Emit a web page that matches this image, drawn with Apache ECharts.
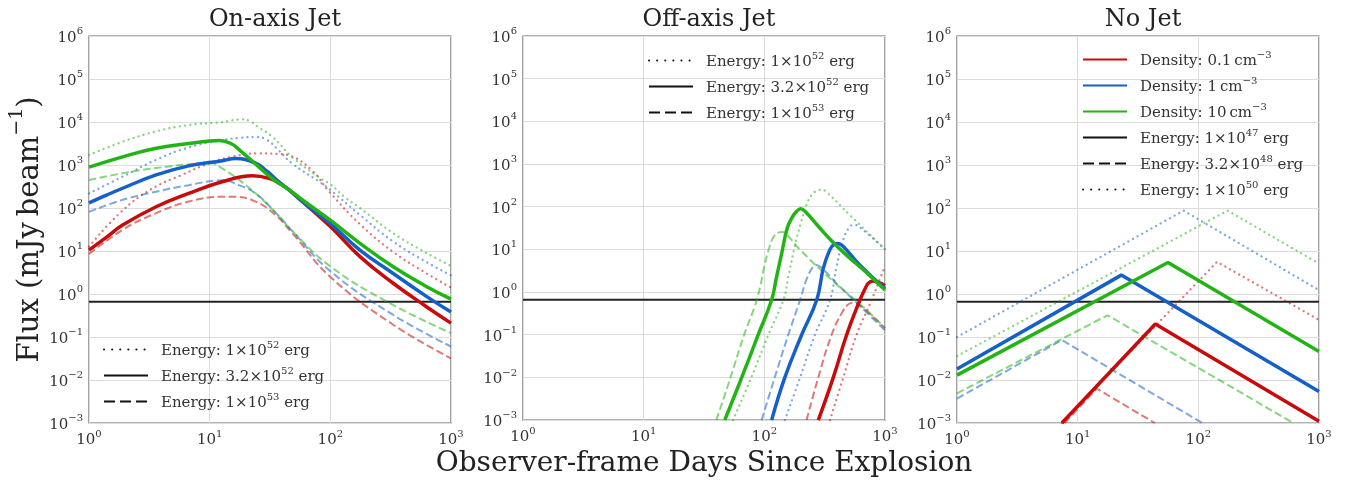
<!DOCTYPE html>
<html>
<head>
<meta charset="utf-8">
<script src="https://cdn.jsdelivr.net/npm/echarts@6/dist/echarts.min.js"></script>
<style>
  html, body { margin: 0; padding: 0; background: #fff; }
  #chart { width: 1359px; height: 483px; }
</style>
</head>
<body>
<div id="chart"></div>
<script>
// Radio light curves: flux density (mJy/beam) vs observer-frame days, three outflow scenarios.
// Each curve is a list of [days, flux] pairs.

const DETECTION_LIMIT = 0.66;

// ---- On-axis jet (solid: 3.2e52 erg, dotted: 1e52 erg, dashed: 1e53 erg) ----
const onRedSolid   = [[1,10.5],[1.4,21],[1.9,40],[3.6,107],[6.7,219],[12.7,407],[22.6,562],[31,490],[38,372],[45,270],[56,158],[100,37],[176,7.4],[332,1.78],[630,0.5],[1000,0.21]];
const onBlueSolid  = [[1,132],[1.4,200],[1.9,288],[3.6,589],[6.7,955],[12.7,1260],[16.4,1410],[24,1100],[30,708],[36,447],[45,270],[64,115],[100,43.6],[176,10.5],[332,3.0],[630,0.87],[1000,0.38]];
const onGreenSolid = [[1,890],[1.9,1550],[3.6,2450],[6.7,3160],[12,3700],[15,3160],[18,2140],[25,955],[33,480],[45,270],[64,129],[100,52],[176,15.1],[332,4.3],[630,1.48],[1000,0.76]];

const onRedDotted   = [[1,12.6],[1.8,76],[3.2,263],[6,603],[10,1100],[15.7,1585],[26,1860],[36,1820],[48,1585],[70,760],[100,224],[176,42],[332,9.5],[630,3.0],[1000,1.41]];
const onBlueDotted  = [[1,219],[1.9,537],[3.6,1320],[6.7,2570],[12.7,3800],[18,4300],[24,4470],[30,3800],[37,2240],[48,1100],[80,417],[100,263],[176,69],[332,16.6],[630,5.5],[1000,2.7]];
const onGreenDotted = [[1,1700],[1.9,3470],[3.6,6030],[6.7,8510],[12.7,10000],[15.5,11000],[18.5,11500],[21.5,10500],[25,7760],[33,4570],[48,1550],[80,525],[100,355],[132,178],[176,100],[332,26],[630,8.9],[1000,4.5]];

const onRedDashed   = [[1,8.5],[1.9,31],[3.6,76],[6.7,141],[12.7,182],[16.4,182],[24,141],[35,69],[49,25],[100,2.5],[330,0.195],[1000,0.032]];
const onBlueDashed  = [[1,81],[1.9,155],[3.6,240],[6.7,340],[12.7,440],[17.5,340],[24,219],[35,79],[49,28],[100,3.4],[330,0.33],[1000,0.06]];
const onGreenDashed = [[1,447],[2.3,708],[4.4,912],[7,1050],[10.2,1100],[12.7,830],[17.5,450],[24,219],[35,79],[49,28],[100,4.4],[295,0.66],[1000,0.123]];

// ---- Off-axis jet ----
const offRedSolid   = [[280,0.001],[373,0.01],[481,0.1],[621,0.66],[676,1.12],[728,1.62],[794,1.82],[891,1.66],[1000,1.41]];
const offBlueSolid  = [[115,0.001],[148,0.01],[204,0.1],[272,0.66],[308,3.6],[350,10],[380,13.2],[407,13.8],[447,12],[617,4.3],[1000,1.2]];
const offGreenSolid = [[47,0.001],[65,0.01],[89,0.1],[115,0.66],[126,2.2],[138,7.1],[155,32],[170,56],[186,79],[200,89],[219,76],[282,34],[372,14.5],[500,6.6],[708,2.8],[1000,1.12]];

const offRedDotted   = [[350,0.001],[451,0.01],[582,0.1],[776,0.66],[891,1.78],[1000,4.0]];
const offBlueDotted  = [[148,0.001],[198,0.01],[263,0.1],[350,0.66],[398,4.0],[447,15.8],[501,31.6],[550,38],[631,31.6],[1000,10]];
const offGreenDotted = [[55,0.001],[78,0.01],[108,0.1],[144,0.66],[158,2.24],[178,11.2],[200,40],[224,112],[251,200],[282,245],[299,251],[331,214],[513,63],[1000,10]];

const offRedDashed   = [[224,0.001],[280,0.01],[361,0.1],[447,0.355],[501,0.525],[550,0.56],[631,0.47],[1000,0.141]];
const offBlueDashed  = [[95,0.001],[122,0.01],[158,0.1],[198,0.66],[224,2.0],[251,3.8],[269,4.3],[295,3.8],[398,1.58],[631,0.45],[1000,0.126]];
const offGreenDashed = [[40,0.001],[52.5,0.01],[68,0.1],[83,0.45],[92,1.26],[100,4.0],[110,11.2],[120,20],[132,25],[141,25.7],[155,21.4],[200,9.5],[372,1.78],[631,0.5],[1000,0.145]];

// ---- No jet (solid: 1e47 erg, dashed: 3.2e48 erg, dotted: 1e50 erg) ----
const noRedSolid    = [[7.4,0.001],[44,0.2],[1000,0.0011]];
const noBlueSolid   = [[1,0.018],[23,2.75],[1000,0.0054]];
const noGreenSolid  = [[1,0.013],[56,5.4],[1000,0.046]];

const noRedDashed   = [[7.8,0.001],[14.4,0.0063],[43.5,0.001]];
const noBlueDashed  = [[1,0.0037],[7.4,0.085],[108,0.001]];
const noGreenDashed = [[1,0.0049],[17.7,0.32],[613,0.001]];

const noRedDotted   = [[7.4,0.001],[143,5.6],[1000,0.25]];
const noBlueDotted  = [[1,0.10],[75.5,87],[1000,1.23]];
const noGreenDotted = [[1,0.036],[175,87],[1000,5.1]];

// ---- Text ----
const panelTitles = ['On-axis Jet', 'Off-axis Jet', 'No Jet'];
const jetLegend   = ['Energy: 1×10^52 erg', 'Energy: 3.2×10^52 erg', 'Energy: 1×10^53 erg'];
const noJetLegend = ['Density: 0.1\u2009cm^−3', 'Density: 1\u2009cm^−3', 'Density: 10\u2009cm^−3',
                     'Energy: 1×10^47 erg', 'Energy: 3.2×10^48 erg', 'Energy: 1×10^50 erg'];
const xTitle = 'Observer-frame Days Since Explosion';
const xRange = [1, 1000];
const yRange = [0.001, 1e6];

// ---- Styling ----
const FONT = 'DejaVu Serif';
const RED = '#c80a0a', BLUE = '#1460c8', GREEN = '#22b414';
const gridLefts = [89, 523, 957];
const GRID_TOP = 36, GRID_W = 362, GRID_H = 387;

const supRich = {
  b: { fontFamily: FONT, fontSize: 15, color: '#333', lineHeight: 19, verticalAlign: 'bottom' },
  s: { fontFamily: FONT, fontSize: 10, color: '#333', lineHeight: 19, verticalAlign: 'top' }
};
function powerLabel(v) {
  const e = Math.round(Math.log10(v));
  return '{b|10}{s|' + (e < 0 ? '\u2212' + (-e) : e) + '}';
}
function legendLabel(name) {
  const m = name.match(/^(.*?)\^(\S+)(.*)$/);
  if (!m) return '{p|}{t|' + name + '}';
  return '{p|}{t|' + m[1] + '}{s|' + m[2] + '}{t|' + m[3] + '}';
}
const legendRich = {
  p: { width: 8 },
  t: { fontFamily: FONT, fontSize: 15, color: '#333', lineHeight: 19, verticalAlign: 'bottom' },
  s: { fontFamily: FONT, fontSize: 10, color: '#333', lineHeight: 19, verticalAlign: 'top' }
};

function curve(data, color, kind, panel) {
  const s = {
    type: 'line', xAxisIndex: panel, yAxisIndex: panel, data: data,
    symbol: 'none', silent: true, clip: true, smooth: panel < 2 ? 0.45 : false
  };
  if (kind === 'solid') {
    s.lineStyle = { color: color, width: 3.5 };
    s.z = 4;
  } else if (kind === 'dashed') {
    s.lineStyle = { color: color, width: 2, opacity: 0.55, type: [7.5, 3.5] };
    s.z = 3;
  } else {
    s.lineStyle = { color: color, width: 2.3, opacity: 0.55, type: [0.1, 5.2], cap: 'round' };
    s.z = 3;
  }
  return s;
}
function legendKey(name, color, kind, panel) {
  const type = kind === 'dashed' ? [11, 5] : kind === 'dotted' ? [0.1, 8] : 'solid';
  return {
    type: 'line', name: name, xAxisIndex: panel, yAxisIndex: panel, data: [],
    symbol: 'none', itemStyle: { color: color },
    lineStyle: { color: color, width: 3, type: type, cap: kind === 'dotted' ? 'round' : 'butt' }
  };
}
function threshold(panel) {
  return {
    type: 'line', xAxisIndex: panel, yAxisIndex: panel, symbol: 'none', silent: true, z: 2,
    data: [[xRange[0], DETECTION_LIMIT], [xRange[1], DETECTION_LIMIT]],
    lineStyle: { color: '#222', width: 1.8 }
  };
}

const series = [
  curve(onRedDotted, RED, 'dotted', 0), curve(onBlueDotted, BLUE, 'dotted', 0), curve(onGreenDotted, GREEN, 'dotted', 0),
  curve(onRedDashed, RED, 'dashed', 0), curve(onBlueDashed, BLUE, 'dashed', 0), curve(onGreenDashed, GREEN, 'dashed', 0),
  curve(onRedSolid, RED, 'solid', 0), curve(onBlueSolid, BLUE, 'solid', 0), curve(onGreenSolid, GREEN, 'solid', 0),
  threshold(0),
  curve(offRedDotted, RED, 'dotted', 1), curve(offBlueDotted, BLUE, 'dotted', 1), curve(offGreenDotted, GREEN, 'dotted', 1),
  curve(offRedDashed, RED, 'dashed', 1), curve(offBlueDashed, BLUE, 'dashed', 1), curve(offGreenDashed, GREEN, 'dashed', 1),
  curve(offRedSolid, RED, 'solid', 1), curve(offBlueSolid, BLUE, 'solid', 1), curve(offGreenSolid, GREEN, 'solid', 1),
  threshold(1),
  curve(noRedDotted, RED, 'dotted', 2), curve(noBlueDotted, BLUE, 'dotted', 2), curve(noGreenDotted, GREEN, 'dotted', 2),
  curve(noRedDashed, RED, 'dashed', 2), curve(noBlueDashed, BLUE, 'dashed', 2), curve(noGreenDashed, GREEN, 'dashed', 2),
  curve(noRedSolid, RED, 'solid', 2), curve(noBlueSolid, BLUE, 'solid', 2), curve(noGreenSolid, GREEN, 'solid', 2),
  threshold(2),
  legendKey(jetLegend[0], '#111', 'dotted', 0),
  legendKey(jetLegend[1], '#111', 'solid', 0),
  legendKey(jetLegend[2], '#111', 'dashed', 0),
  legendKey(noJetLegend[0], RED, 'solid', 2),
  legendKey(noJetLegend[1], BLUE, 'solid', 2),
  legendKey(noJetLegend[2], GREEN, 'solid', 2),
  legendKey(noJetLegend[3], '#111', 'solid', 2),
  legendKey(noJetLegend[4], '#111', 'dashed', 2),
  legendKey(noJetLegend[5], '#111', 'dotted', 2)
];

function makeLegend(names, left, top) {
  return {
    data: names, left: left, top: top, orient: 'vertical', selectedMode: false,
    itemWidth: 44, itemHeight: 14, itemGap: 7, padding: 0,
    itemStyle: { opacity: 0, borderWidth: 0 },
    formatter: legendLabel,
    textStyle: { rich: legendRich }
  };
}

const grids = gridLefts.map(l => ({
  left: l, top: GRID_TOP, width: GRID_W, height: GRID_H,
  show: true, borderColor: '#666', borderWidth: 1.2, backgroundColor: '#fff'
}));

const xAxes = gridLefts.map((l, i) => ({
  type: 'log', logBase: 10, gridIndex: i, min: xRange[0], max: xRange[1],
  axisLine: { show: false }, axisTick: { show: false },
  splitLine: { show: true, lineStyle: { color: '#dcdcdc', width: 1 } },
  axisLabel: { formatter: powerLabel, rich: supRich, margin: 6, showMinLabel: true, showMaxLabel: true },
  name: i === 1 ? xTitle : '', nameLocation: 'middle', nameGap: 25,
  nameTextStyle: { fontFamily: FONT, fontSize: 28, color: '#222' }
}));

const yAxes = gridLefts.map((l, i) => ({
  type: 'log', logBase: 10, gridIndex: i, min: yRange[0], max: yRange[1],
  axisLine: { show: false }, axisTick: { show: false },
  splitLine: { show: true, lineStyle: { color: '#dcdcdc', width: 1 } },
  axisLabel: { formatter: powerLabel, rich: supRich, margin: 6, showMinLabel: true, showMaxLabel: true },
  name: i === 0 ? '{n|Flux (mJy\u2009beam}{s|\u22121}{n|)}' : '',
  nameLocation: 'middle', nameGap: 44, nameRotate: 90,
  nameTextStyle: {
    rich: {
      n: { fontFamily: FONT, fontSize: 29, color: '#222', lineHeight: 37, verticalAlign: 'bottom' },
      s: { fontFamily: FONT, fontSize: 19, color: '#222', lineHeight: 37, verticalAlign: 'top' }
    }
  }
}));

const titles = panelTitles.map((t, i) => ({
  text: t, left: gridLefts[i] + GRID_W / 2, top: 3, textAlign: 'center',
  textStyle: { fontFamily: FONT, fontSize: 24, fontWeight: 'normal', color: '#222' }
}));

const chart = echarts.init(document.getElementById('chart'), null, { renderer: 'canvas' });
chart.setOption({
  backgroundColor: '#fff',
  animation: false,
  title: titles,
  grid: grids,
  xAxis: xAxes,
  yAxis: yAxes,
  legend: [
    makeLegend(jetLegend, 103, 340),
    makeLegend(jetLegend, 648, 51),
    makeLegend(noJetLegend, 1082, 50)
  ],
  series: series
});
</script>
</body>
</html>
